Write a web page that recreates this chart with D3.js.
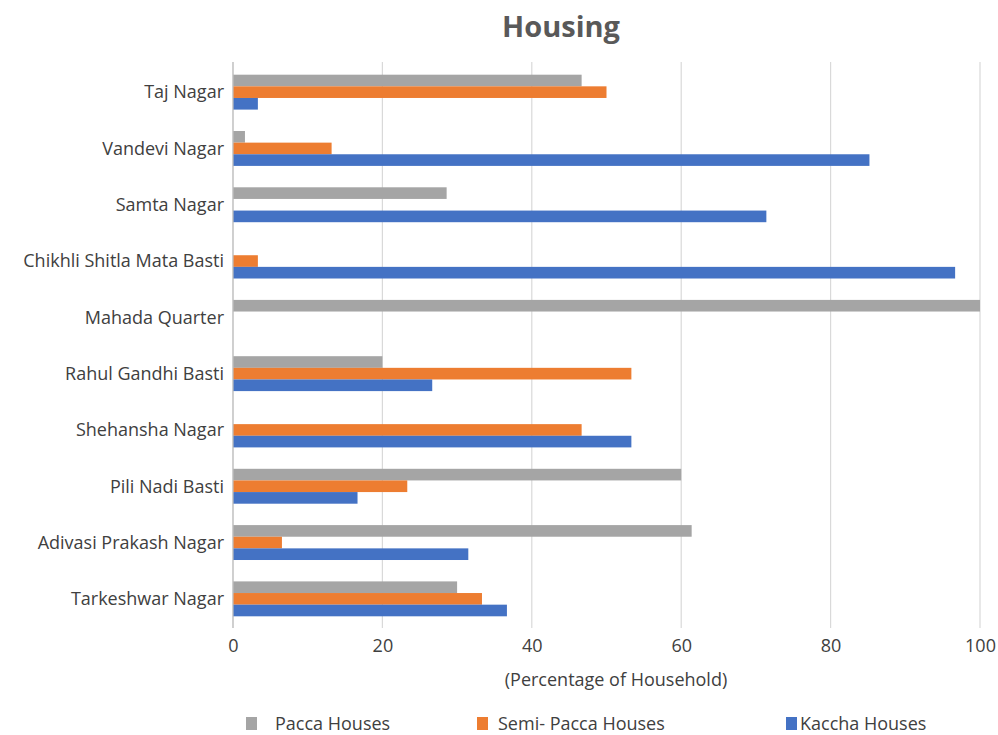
<!DOCTYPE html>
<html>
<head>
<meta charset="utf-8">
<script src="https://cdn.jsdelivr.net/npm/d3@7"></script>
<style>
  html, body { margin: 0; padding: 0; background: #ffffff; }
  svg { display: block; font-family: "Open Sans", "Noto Sans", sans-serif; }
</style>
</head>
<body>
<svg id="chart" width="998" height="735"></svg>
<script>
// Settlements, listed top to bottom
const categories = [
  "Taj Nagar",
  "Vandevi Nagar",
  "Samta Nagar",
  "Chikhli Shitla Mata Basti",
  "Mahada Quarter",
  "Rahul Gandhi Basti",
  "Shehansha Nagar",
  "Pili Nadi Basti",
  "Adivasi Prakash Nagar",
  "Tarkeshwar Nagar"
];

// Share of households (%) by house type
const paccaHouses     = [46.67, 1.6, 28.6, 0, 100, 20, 0, 60, 61.4, 30];
const semiPaccaHouses = [50, 13.2, 0, 3.33, 0, 53.33, 46.67, 23.33, 6.55, 33.33];
const kacchaHouses    = [3.33, 85.2, 71.4, 96.67, 0, 26.67, 53.33, 16.67, 31.5, 36.67];

const seriesNames = ["Pacca Houses", "Semi- Pacca Houses", "Kaccha Houses"];
const xTicks = [0, 20, 40, 60, 80, 100];

const series = [
  { name: seriesNames[0], values: paccaHouses,     color: "#a5a5a5" },
  { name: seriesNames[1], values: semiPaccaHouses, color: "#ed7d31" },
  { name: seriesNames[2], values: kacchaHouses,    color: "#4472c4" }
];

const FONT = 18;
const TEXT = "#404040";

const svg = d3.select("#chart");
const plot = { left: 233, right: 980, top: 64, bottom: 627 };

const x = d3.scaleLinear().domain([0, 100]).range([plot.left, plot.right]);
const y = d3.scaleBand().domain(categories).range([plot.top, plot.bottom])
  .paddingInner(0.38).paddingOuter(0.19);
const ySub = d3.scaleBand().domain(seriesNames).range([0, y.bandwidth()]);

// Title
svg.append("text")
  .attr("x", 561).attr("y", 37)
  .attr("text-anchor", "middle")
  .attr("font-size", 29).attr("font-weight", 700)
  .attr("fill", "#595959")
  .text("Housing");

// Vertical gridlines
svg.append("g").selectAll("line")
  .data(xTicks)
  .join("line")
  .attr("x1", d => x(d)).attr("x2", d => x(d))
  .attr("y1", plot.top - 2).attr("y2", plot.bottom + 1)
  .attr("stroke", "#d9d9d9").attr("stroke-width", 1.2);

// Bars
const groups = svg.append("g").selectAll("g")
  .data(categories)
  .join("g")
  .attr("transform", d => `translate(0,${y(d)})`);

groups.selectAll("rect")
  .data((c, i) => series.map(s => ({ name: s.name, value: s.values[i], color: s.color })))
  .join("rect")
  .attr("x", x(0))
  .attr("y", d => ySub(d.name))
  .attr("width", d => x(d.value) - x(0))
  .attr("height", ySub.bandwidth())
  .attr("fill", d => d.color);

// Category axis line
svg.append("line")
  .attr("x1", x(0)).attr("x2", x(0))
  .attr("y1", plot.top - 2).attr("y2", plot.bottom + 1)
  .attr("stroke", "#bfbfbf").attr("stroke-width", 1.2);

// Category labels
svg.append("g").selectAll("text")
  .data(categories)
  .join("text")
  .attr("x", plot.left - 9)
  .attr("y", d => y(d) + y.bandwidth() / 2)
  .attr("dy", "0.35em")
  .attr("text-anchor", "end")
  .attr("font-size", FONT)
  .attr("fill", TEXT)
  .text(d => d);

// Value axis tick labels
const xAxis = d3.axisBottom(x).tickValues(xTicks).tickSize(0).tickPadding(0);
const xg = svg.append("g").attr("transform", `translate(0,${plot.bottom + 12})`).call(xAxis);
xg.select(".domain").remove();
xg.selectAll("text")
  .attr("font-family", "\"Open Sans\", \"Noto Sans\", sans-serif")
  .attr("font-size", FONT)
  .attr("fill", TEXT);

// Value axis title
svg.append("text")
  .attr("x", 616).attr("y", 680)
  .attr("dy", "0.35em")
  .attr("text-anchor", "middle")
  .attr("font-size", FONT)
  .attr("fill", TEXT)
  .text("(Percentage of Household)");

// Legend
const legendPos = [246, 477, 786];
const legendGap = [29, 21, 14];
const legend = svg.append("g").selectAll("g")
  .data(series)
  .join("g")
  .attr("transform", (d, i) => `translate(${legendPos[i]},717)`);
legend.append("rect")
  .attr("width", 11).attr("height", 13)
  .attr("fill", d => d.color);
legend.append("text")
  .attr("x", (d, i) => legendGap[i])
  .attr("y", 6.5).attr("dy", "0.35em")
  .attr("font-size", FONT)
  .attr("fill", TEXT)
  .text(d => d.name);
</script>
</body>
</html>
